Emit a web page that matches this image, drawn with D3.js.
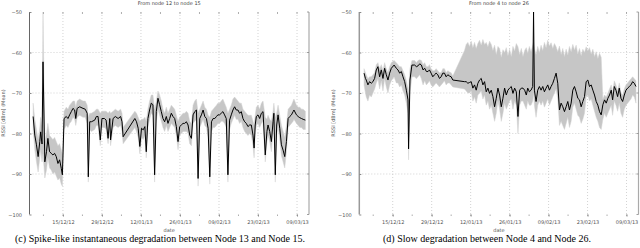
<!DOCTYPE html>
<html><head><meta charset="utf-8">
<script src="https://cdn.jsdelivr.net/npm/d3@7"></script>
<style>
html,body{margin:0;padding:0;background:#fff;}
svg{display:block;}
</style></head>
<body>
<svg id="chart" width="640" height="248"></svg>
<script>
// ---------- DATA ----------
// time offsets in days from 03/12/2012 (UTC)
const startDay = "03/12/12";
const xTickLabels = ["15/12/12","29/12/12","12/01/13","26/01/13","09/02/13","23/02/13","09/03/13"];
const yTicks = [-100,-90,-80,-70,-60,-50];

// Panel (c): node 12 -> node 15
const leftDays = [1.3,1.9,2.5,3.1,3.7,4.0,4.5,4.85,5.5,6.1,6.6,7.2,7.8,8.4,9.0,9.6,10.2,10.8,11.4,11.8,
12.4,13.2,13.8,14.4,15.0,15.6,16.2,16.6,17.1,18.0,19.2,20.0,20.7,21.1,21.6,22.2,23.4,24.0,24.6,25.4,
26.0,26.9,27.5,28.2,28.8,29.1,30.0,30.8,31.8,32.7,33.2,33.6,37.8,38.4,39.0,39.6,40.2,40.8,41.4,41.9,
42.5,43.1,43.7,44.3,44.9,45.5,46.1,46.7,47.3,47.9,48.5,49.1,49.7,50.3,50.9,51.5,52.1,52.7,53.3,53.9,
54.5,55.1,55.7,56.3,56.9,57.5,58.1,58.7,59.3,59.9,60.5,61.1,61.7,62.3,62.9,63.5,64.1,64.7,65.3,65.9,
66.5,67.1,67.6,68.2,68.8,69.4,70.0,70.6,71.2,71.8,72.4,73.0,73.6,74.2,74.8,75.4,76.0,76.6,77.2,77.8,
78.4,79.0,79.6,80.2,80.6,81.0,81.4,82.0,82.6,83.2,83.8,84.6,85.2,85.6,86.2,86.8,87.4,87.7,88.2,88.7,
89.2,89.8,90.4,91.0,91.6,92.2,92.8,93.4,94.0,94.6,94.9,95.8,96.4,97.0,97.6,98.2,99.0];
const leftMean = [-75.8,-80.4,-82.8,-85.7,-82.0,-79.6,-82.6,-62.3,-87.0,-84.5,-81.2,-84.5,-84.9,-85.3,-84.9,-85.7,-87.4,-86.5,-88.6,-90.2,
-76.3,-75.8,-76.3,-75.4,-74.6,-73.8,-74.2,-76.3,-73.8,-73.4,-73.8,-74.0,-75.0,-90.7,-77.1,-77.1,-76.7,-75.8,-75.8,-81.6,
-76.3,-76.3,-76.7,-81.2,-76.3,-81.6,-76.3,-75.8,-76.3,-75.8,-77.1,-80.8,-76.3,-77.1,-78.7,-83.2,-78.7,-79.1,-78.3,-84.5,
-76.3,-74.2,-72.5,-72.9,-90.2,-74.6,-71.3,-72.9,-74.6,-76.3,-77.1,-75.8,-77.5,-76.3,-75.0,-75.8,-76.3,-78.3,-82.0,-78.3,
-77.9,-77.5,-77.5,-77.1,-77.9,-80.4,-81.2,-75.4,-74.6,-74.2,-91.1,-76.3,-75.4,-74.2,-75.8,-76.3,-78.7,-90.7,-77.1,-76.3,
-76.3,-75.8,-75.4,-75.4,-75.0,-74.6,-75.4,-76.3,-90.2,-76.7,-75.4,-74.2,-73.4,-74.2,-74.2,-75.0,-74.6,-76.3,-77.1,-77.5,
-78.3,-77.9,-77.9,-80.4,-83.6,-77.9,-75.8,-75.4,-76.3,-75.0,-74.6,-85.3,-79.5,-77.9,-79.5,-82.0,-77.1,-75.0,-90.2,-77.9,
-75.4,-78.7,-82.8,-84.1,-85.7,-82.0,-76.3,-75.8,-75.4,-74.6,-74.2,-75.4,-75.8,-76.1,-76.3,-76.5,-76.7];
const leftHigh = [-72.5,-76.5,-79,-81.5,-78.5,-76,-78,-50,-82,-80,-77.5,-80.5,-81,-81.5,-81,-82,-83,-82.5,-84,-85,
-74.5,-73.5,-74,-73,-72.5,-72,-72,-73.5,-72,-71.5,-72,-72,-73,-76,-75,-75,-74.5,-74,-74,-75,
-74.5,-74.5,-74.5,-75,-74.5,-75,-74.5,-74,-74.5,-74,-75,-78.5,-74.5,-75,-76,-77,-76.5,-76.5,-76,-77,
-74,-72,-70.5,-70.5,-74,-72,-69.5,-70.5,-72,-74,-75,-73.5,-75,-74,-73,-73.5,-74,-75.5,-77,-76,
-75.5,-75,-75,-74.5,-75,-77,-77.5,-73,-72,-71.5,-75,-74,-73,-72,-73.5,-74,-75.5,-76,-74.5,-74,
-73.5,-73,-72.5,-72.5,-72,-71.5,-72.5,-73.5,-75,-74,-73,-71.5,-71,-71.5,-72,-72.5,-72.5,-74,-74.5,-75,
-75.5,-75.5,-75.5,-77,-78,-75.5,-73.5,-73,-74,-72.5,-72,-76,-76.5,-75.5,-76.5,-77,-74.5,-72.5,-76,-75,
-73,-75.5,-78,-79.5,-81,-78,-74,-73.5,-73,-72,-71.5,-73,-73.5,-73.5,-74,-74,-74.5];
const leftLow = [-79,-84,-87,-89.5,-86,-84,-87,-85,-91,-89,-86,-88.5,-89,-90,-89.5,-90.5,-91.5,-91,-92.5,-93,
-79,-78,-78.5,-77.5,-77,-76,-76.5,-78,-76,-75.5,-76,-76,-77.5,-92,-79,-79.5,-79,-78,-78,-83,
-78.5,-78.5,-79,-82.5,-78.5,-83,-78.5,-78,-78.5,-78,-79.5,-82.5,-78.5,-79.5,-81,-85,-81,-81.5,-80.5,-86,
-78.5,-76.5,-75,-75.5,-92,-77,-74,-75.5,-77,-78.5,-79.5,-78,-79.5,-78.5,-77.5,-78,-78.5,-80.5,-84,-80.5,
-80,-79.5,-79.5,-79.5,-80,-82.5,-83,-77.5,-77,-76.5,-93,-78.5,-77.5,-76.5,-78,-78.5,-81,-92.5,-79.5,-78.5,
-78.5,-78,-77.5,-77.5,-77,-77,-77.5,-78.5,-92,-79,-77.5,-76.5,-75.5,-76.5,-76.5,-77.5,-77,-78.5,-79.5,-80,
-80.5,-80,-80.5,-83,-86,-80,-78,-77.5,-78.5,-77.5,-77,-87,-82,-80.5,-82,-84.5,-79.5,-77.5,-92,-80.5,
-78,-81.5,-85.5,-87,-88.5,-84.5,-78.5,-78,-77.5,-77,-76.5,-77.5,-78,-78.5,-78.5,-79,-79];

// Panel (d): node 4 -> node 26
const rightDays = [1.7,2.2,2.5,3.1,3.7,4.3,4.9,5.5,6.1,6.7,7.3,7.9,8.5,9.1,9.7,10.3,10.9,11.5,12.5,13.3,
13.9,14.5,15.1,15.7,16.3,16.9,17.5,17.7,18.2,18.9,19.9,20.5,21.1,21.7,22.3,22.9,23.5,24.1,24.7,25.2,
25.8,26.4,27.0,27.6,28.2,28.8,29.4,30.0,30.6,31.2,31.8,32.4,33.0,33.6,37.8,38.4,39.0,39.6,40.2,40.8,
41.4,42.0,42.6,43.2,43.8,44.4,45.0,45.6,46.2,46.8,47.4,48.0,48.6,49.2,49.8,50.4,51.0,51.6,52.2,52.8,
53.4,54.0,54.6,55.2,55.8,56.4,57.0,57.6,58.2,58.8,59.4,60.0,60.5,61.1,61.7,62.3,62.6,62.9,63.5,64.1,
64.7,65.3,65.9,66.5,67.1,67.7,68.3,68.9,69.5,70.1,70.7,71.3,71.9,72.5,73.1,73.7,74.3,74.9,75.5,76.1,
76.7,77.3,77.9,78.5,79.1,79.7,80.3,80.9,81.5,82.1,82.7,83.3,83.9,84.5,85.1,85.7,86.3,86.9,87.5,88.1,
88.7,89.3,89.9,90.5,91.0,91.6,92.2,92.8,93.4,94.0,94.6,95.2,95.8,96.4,97.0,97.6,98.2,98.8,99.4];
const rightMean = [-65.1,-66.4,-66.8,-68.0,-67.2,-67.6,-67.2,-66.4,-64.3,-63.5,-66.0,-64.3,-66.4,-63.9,-65.5,-66.8,-65.1,-63.9,-63.1,-63.9,
-64.3,-65.1,-64.7,-66.0,-67.2,-69.3,-71.7,-83.8,-66.8,-63.1,-63.1,-63.5,-63.3,-62.8,-63.1,-64.3,-63.9,-64.7,-64.7,-64.3,
-65.1,-66.0,-65.5,-65.1,-65.5,-66.4,-66.0,-65.1,-65.1,-66.0,-65.5,-65.8,-66.0,-66.8,-67.2,-67.2,-67.6,-67.4,-67.2,-68.8,
-68.0,-69.3,-67.6,-66.8,-66.4,-68.0,-67.2,-69.7,-68.8,-70.1,-69.3,-70.9,-73.4,-71.3,-68.8,-70.5,-73.4,-71.3,-68.8,-70.5,
-69.3,-68.8,-68.4,-70.1,-68.8,-69.7,-75.8,-69.3,-68.8,-68.8,-69.3,-70.5,-68.8,-69.7,-69.3,-68.4,-50,-69.3,-72.1,-69.3,
-68.4,-69.3,-68.4,-69.7,-68.8,-68.0,-69.3,-68.4,-67.6,-66.4,-65.1,-67.6,-74.2,-72.5,-73.4,-74.6,-73.4,-72.1,-74.2,-72.5,
-69.3,-68.4,-69.7,-71.3,-71.7,-73.4,-72.1,-70.9,-67.2,-66.8,-68.4,-68.0,-69.3,-70.5,-72.1,-73.0,-74.6,-75.4,-72.9,-71.7,
-72.5,-71.3,-70.5,-69.3,-71.7,-68.4,-69.3,-70.9,-68.8,-71.3,-72.1,-70.5,-69.3,-68.8,-68.4,-68.0,-67.2,-67.6,-68.4];
const rightHigh = [-64,-65,-65.5,-66.5,-66,-66,-65.5,-65,-63,-62.5,-64,-63,-64.5,-62.5,-64,-65,-63.5,-62.5,-62,-62.5,
-63,-63.5,-63.5,-64.5,-65.5,-67,-69,-70,-64,-62,-62,-62.5,-62,-61.8,-62,-63,-62.5,-63.5,-63.5,-63,
-64,-64.5,-64.5,-64,-64.5,-65,-65,-64,-64,-65,-64.5,-64.8,-65,-65.8,-59.5,-58,-57.5,-58.5,-57.2,-58.8,
-57.5,-59,-57.8,-57,-58.2,-56.8,-58,-57.5,-58.6,-57.2,-58,-59.5,-58.2,-60.5,-58.5,-59,-61.2,-59.3,-60,-58.8,
-60.8,-59.2,-61,-58.5,-59.6,-57.8,-58.6,-60.5,-59,-61,-59.5,-58.8,-60.2,-58.5,-59.8,-58.3,-57.5,-59,-60.5,-58.5,
-60,-58.2,-59.5,-57.5,-58.8,-57,-58.4,-57.6,-59,-57.8,-58.6,-59.8,-58.4,-60.5,-59,-61,-59.2,-60.6,-58.5,-59.8,
-58,-59.4,-58.2,-60.4,-59,-60.8,-59.2,-60,-58.6,-59.6,-58.8,-60.4,-59.2,-61,-59.8,-61.5,-60.2,-61.2,-71.5,-70.5,
-71,-70,-69,-68,-70,-67,-68,-69.5,-67.5,-70,-70.5,-69,-68,-67.5,-67,-66.5,-66,-66.5,-67];
const rightLow = [-68,-70,-71,-72,-70.5,-71,-70,-69,-67.5,-66.5,-69,-67,-69.5,-66.5,-68.5,-70,-68,-67,-66,-67.5,
-67.5,-68.5,-68,-69.5,-70.5,-72.5,-75,-86.5,-70,-66,-66,-66.5,-66,-65.5,-66.5,-68,-67,-68,-67.5,-67,
-68,-68.5,-68,-67.5,-68,-68.5,-68,-67.5,-67,-68,-67.5,-67.5,-68,-68.5,-69,-69.5,-70,-70,-69.5,-72,
-71,-72.5,-70.5,-70,-69.5,-71.5,-70.5,-73,-72,-74,-73,-75,-77,-75,-72,-74,-77,-75,-72.5,-74,
-73,-72,-71.5,-74,-72,-73,-80,-73,-72,-72,-73,-74,-72,-73,-73,-72,-70,-73,-76,-73,
-72,-73,-72,-73.5,-72.5,-71.5,-73,-72,-71,-70,-69,-71.5,-78,-77,-78,-79,-77.5,-76,-78.5,-77,
-73.5,-72.5,-74,-75.5,-76,-77.5,-76.5,-75,-71,-70.5,-72,-71.5,-73,-74.5,-76,-77,-78.5,-79,-76.5,-75,
-76,-75,-74,-73,-75.5,-72,-73,-74.5,-72.5,-75,-76,-74,-73,-72.5,-72,-71.5,-70.5,-71,-72.5];

const panels = [
  {title:"From node 12 to node 15", caption:"(c) Spike-like instantaneous degradation between Node 13 and Node 15.",
   days:leftDays, mean:leftMean, hi:leftHigh, lo:leftLow, x0:29.5, x1:309, yLab:5, capX:160},
  {title:"From node 4 to node 26", caption:"(d) Slow degradation between Node 4 and Node 26.",
   days:rightDays, mean:rightMean, hi:rightHigh, lo:rightLow, x0:359.3, x1:638.5, yLab:335, capX:487}
];

// ---------- DRAW ----------
const svg = d3.select("#chart");
const parse = d3.utcParse("%d/%m/%y");
const fmt = d3.utcFormat("%d/%m/%y");
const t0 = parse(startDay);
const toDate = d => new Date(t0.getTime() + d * 864e5);
const tEnd = toDate(100.3);
const majors = xTickLabels.map(parse);
const minors = d3.utcSaturday.range(t0, tEnd);
const yTop = 12, yBot = 214.5;
const y = d3.scaleLinear().domain([-100, -50]).range([yBot, yTop]);

panels.forEach((p, i) => {
  const x = d3.scaleUtc().domain([t0, tEnd]).range([p.x0, p.x1]);
  const g = svg.append("g");
  const clipId = "clip" + i;
  g.append("clipPath").attr("id", clipId).append("rect")
    .attr("x", p.x0).attr("y", yTop).attr("width", p.x1 - p.x0).attr("height", yBot - yTop);

  // grid
  g.append("g").selectAll("line").data(yTicks.filter(v => v > -100 && v < -50)).join("line")
    .attr("x1", p.x0).attr("x2", p.x1).attr("y1", d => y(d)).attr("y2", d => y(d))
    .attr("stroke", "#c8c8c8").attr("stroke-width", 0.8).attr("stroke-dasharray", "1,2");
  g.append("g").selectAll("line").data(majors).join("line")
    .attr("x1", d => x(d)).attr("x2", d => x(d)).attr("y1", yTop).attr("y2", yBot)
    .attr("stroke", "#c8c8c8").attr("stroke-width", 0.8).attr("stroke-dasharray", "1,2");

  const pts = p.days.map((d, k) => ({t: toDate(d), m: p.mean[k], hi: p.hi[k], lo: p.lo[k]}));
  const plot = g.append("g").attr("clip-path", `url(#${clipId})`);
  plot.append("path").datum(pts)
    .attr("d", d3.area().x(d => x(d.t)).y0(d => y(d.lo)).y1(d => y(d.hi)))
    .attr("fill", "#c6c6c6").attr("stroke", "#d2d2d2").attr("stroke-width", 0.5);
  plot.append("path").datum(pts)
    .attr("d", d3.line().x(d => x(d.t)).y(d => y(d.m)))
    .attr("fill", "none").attr("stroke", "#000").attr("stroke-width", 1).attr("stroke-linejoin", "round");

  // borders
  g.append("line").attr("x1", p.x0).attr("x2", p.x0).attr("y1", yTop).attr("y2", yBot)
    .attr("stroke", i === 0 ? "#666" : "#999").attr("stroke-width", i === 0 ? 1 : 1.5);
  g.append("line").attr("x1", p.x1).attr("x2", p.x1).attr("y1", yTop).attr("y2", yBot)
    .attr("stroke", "#aaa").attr("stroke-width", 1.2);

  // x axis (bottom)
  const xa = g.append("g").attr("transform", `translate(0,${yBot})`)
    .call(d3.axisBottom(x).tickValues(majors).tickFormat(fmt).tickSize(2).tickPadding(4));
  xa.select(".domain").remove();
  xa.selectAll("line").attr("stroke", "#888");
  xa.selectAll("text").attr("font-family", "DejaVu Sans").attr("font-size", 5).attr("fill", "#555");
  // minor ticks bottom and top
  g.append("g").selectAll("line").data(minors).join("line")
    .attr("x1", d => x(d)).attr("x2", d => x(d)).attr("y1", yBot).attr("y2", yBot + 1.5)
    .attr("stroke", "#999").attr("stroke-width", 0.8);
  g.append("g").selectAll("line").data(minors).join("line")
    .attr("x1", d => x(d)).attr("x2", d => x(d)).attr("y1", yTop).attr("y2", yTop + 2)
    .attr("stroke", "#999").attr("stroke-width", 0.8);

  // y axis
  const ya = g.append("g").attr("transform", `translate(${p.x0},0)`)
    .call(d3.axisLeft(y).tickValues(yTicks).tickSize(-2).tickPadding(7.5));
  ya.select(".domain").remove();
  ya.selectAll("line").attr("stroke", "#888");
  ya.selectAll("text").attr("font-family", "DejaVu Sans").attr("font-size", 5).attr("fill", "#555");
  g.append("g").selectAll("line").data(yTicks).join("line")
    .attr("x1", p.x1 - 2).attr("x2", p.x1).attr("y1", d => y(d)).attr("y2", d => y(d))
    .attr("stroke", "#888").attr("stroke-width", 0.8);

  // titles
  const cx = (p.x0 + p.x1) / 2;
  g.append("text").attr("x", cx).attr("y", 5).attr("text-anchor", "middle")
    .attr("font-family", "DejaVu Sans").attr("font-size", 5).attr("fill", "#444").text(p.title);
  g.append("text").attr("x", cx).attr("y", 232).attr("text-anchor", "middle")
    .attr("font-family", "DejaVu Sans").attr("font-size", 5).attr("fill", "#555").text("date");
  g.append("text").attr("transform", `translate(${p.yLab},113) rotate(-90)`).attr("text-anchor", "middle")
    .attr("font-family", "DejaVu Sans").attr("font-size", 5).attr("fill", "#555").text("RSSI [dBm] (Mean)");
  g.append("text").attr("x", p.capX).attr("y", 242).attr("text-anchor", "middle")
    .attr("font-family", "Liberation Serif").attr("font-size", 10).attr("fill", "#000").text(p.caption);
});
</script>
</body></html>
